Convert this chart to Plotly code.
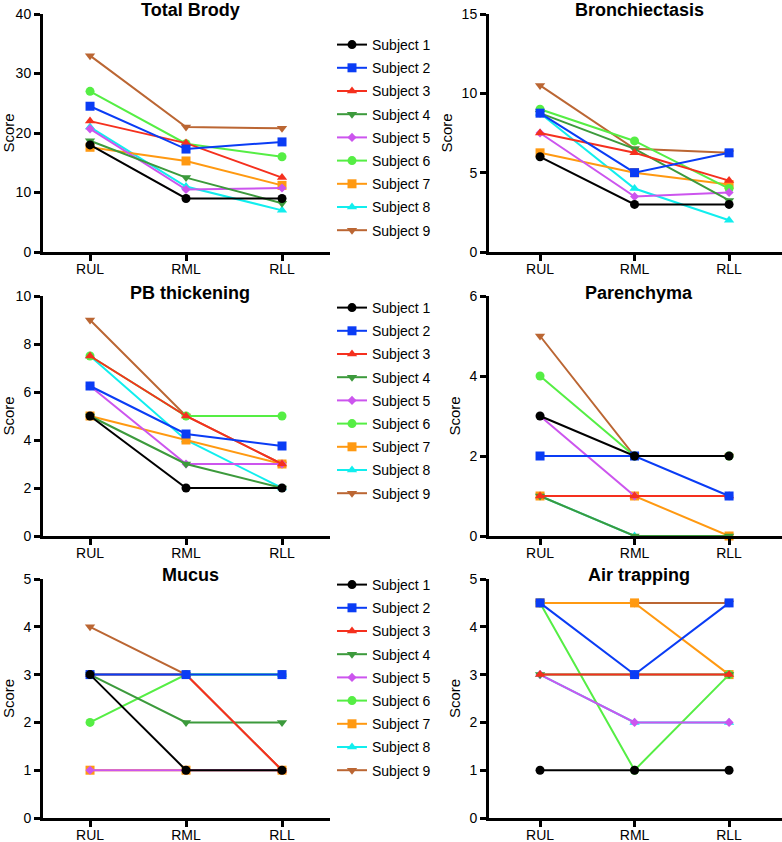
import plotly.graph_objects as go

lobes = ["RUL", "RML", "RLL"]
subjects = [f"Subject {i}" for i in range(1, 10)]
colors = ["#000000", "#0A3CF5", "#F5301E", "#3C9A3C", "#CC55EE",
          "#55EE44", "#FF9911", "#11EEEE", "#BB6633"]
symbols = ["circle", "square", "triangle-up", "triangle-down", "diamond",
           "circle", "square", "triangle-up", "triangle-down"]

total_brody = [
    [18, 9, 9], [24.5, 17.3, 18.5], [22, 18.3, 12.5], [18.7, 12.5, 8.2],
    [20.7, 10.5, 10.75], [27, 18.2, 16], [17.6, 15.3, 11.2], [21, 11, 7],
    [33, 21, 20.8]]
bronchiectasis = [
    [6, 3, 3], [8.75, 5, 6.25], [7.5, 6.25, 4.5], [8.75, 6.5, 3.25],
    [7.5, 3.5, 3.75], [9, 7, 4], [6.25, 5, 4.25], [8.75, 4, 2],
    [10.5, 6.5, 6.25]]
pb_thickening = [
    [5, 2, 2], [6.25, 4.25, 3.75], [7.5, 5, 3], [5, 3, 2],
    [6.25, 3, 3], [7.5, 5, 5], [5, 4, 3], [7.5, 4, 2],
    [9, 5, 3]]
parenchyma = [
    [3, 2, 2], [2, 2, 1], [1, 1, 1], [1, 0, 0],
    [3, 1, 1], [4, 2, 2], [1, 1, 0], [1, 0, 0],
    [5, 2, 2]]
mucus = [
    [3, 1, 1], [3, 3, 3], [3, 3, 1], [3, 2, 2],
    [1, 1, 1], [2, 3, 3], [1, 1, 1], [3, 3, 3],
    [4, 3, 1]]
air_trapping = [
    [1, 1, 1], [4.5, 3, 4.5], [3, 3, 3], [3, 3, 3],
    [3, 2, 2], [4.5, 1, 3], [4.5, 4.5, 3], [3, 2, 2],
    [4.5, 4.5, 4.5]]

panels = [
    ("Total Brody", total_brody, 40, 10),
    ("Bronchiectasis", bronchiectasis, 15, 5),
    ("PB thickening", pb_thickening, 10, 2),
    ("Parenchyma", parenchyma, 6, 2),
    ("Mucus", mucus, 5, 1),
    ("Air trapping", air_trapping, 5, 1),
]

W, H = 782, 842
def px(v):
    return v / W
def py(v):
    return 1 - v / H

col_dom = [(px(43), px(330)), (px(489), px(782))]
col_range = [[-0.49, 2.5], [-0.54, 2.56]]
row_dom = [(py(252), py(14)), (py(536), py(296)), (py(818), py(579))]
title_y = [10, 293, 575]
title_x = [190, 639]
legend_tops = [29, 292, 569]
legend_names = ["legend", "legend2", "legend3"]

fig = go.Figure()
font = "Liberation Sans, Arial, sans-serif"
layout = {}
annotations = []

for p, (title, data, ymax, dtick) in enumerate(panels):
    r, c = divmod(p, 2)
    n = p + 1
    xa = "x" if n == 1 else f"x{n}"
    ya = "y" if n == 1 else f"y{n}"
    for i in reversed(range(9)):
        fig.add_trace(go.Scatter(
            x=lobes, y=data[i], name=subjects[i], mode="lines+markers",
            line=dict(color=colors[i], width=2),
            marker=dict(symbol=symbols[i], color=colors[i],
                        size=7 if symbols[i] == "diamond" else 9),
            xaxis=xa, yaxis=ya, cliponaxis=False,
            legend=legend_names[r], legendrank=i + 1,
            legendgroup=f"row{r}_s{i}",
            showlegend=(c == 0),
        ))
    axis_common = dict(showline=True, linewidth=3, linecolor="black",
                       ticks="outside", ticklen=6, tickwidth=2.5,
                       tickcolor="black", showgrid=False, zeroline=False,
                       automargin=False,
                       tickfont=dict(family=font, size=14, color="black"))
    layout["xaxis" if n == 1 else f"xaxis{n}"] = dict(
        axis_common, domain=list(col_dom[c]), anchor=ya,
        type="category", categoryorder="array", categoryarray=lobes,
        range=col_range[c], ticklabelstandoff=-4)
    layout["yaxis" if n == 1 else f"yaxis{n}"] = dict(
        axis_common, domain=list(row_dom[r]), anchor=xa,
        range=[0, ymax], tick0=0, dtick=dtick,
        title=dict(text="Score", standoff=6,
                   font=dict(family=font, size=15, color="black")))
    annotations.append(dict(
        text=f"<b>{title}</b>", x=px(title_x[c]), y=py(title_y[r]),
        xref="paper", yref="paper", showarrow=False,
        xanchor="center", yanchor="middle",
        font=dict(family=font, size=18, color="black")))

for r in range(3):
    layout[legend_names[r]] = dict(
        x=px(332), y=py(legend_tops[r]), xanchor="left", yanchor="top",
        font=dict(family=font, size=14, color="black"),
        bgcolor="rgba(0,0,0,0)", itemwidth=30, tracegroupgap=2)

fig.update_layout(
    width=W, height=H, margin=dict(l=0, r=0, t=0, b=0, autoexpand=False),
    paper_bgcolor="white", plot_bgcolor="white",
    annotations=annotations, **layout)

fig.write_html("out.html", config={"displayModeBar": False},
               post_script="document.body.style.margin='0';")
